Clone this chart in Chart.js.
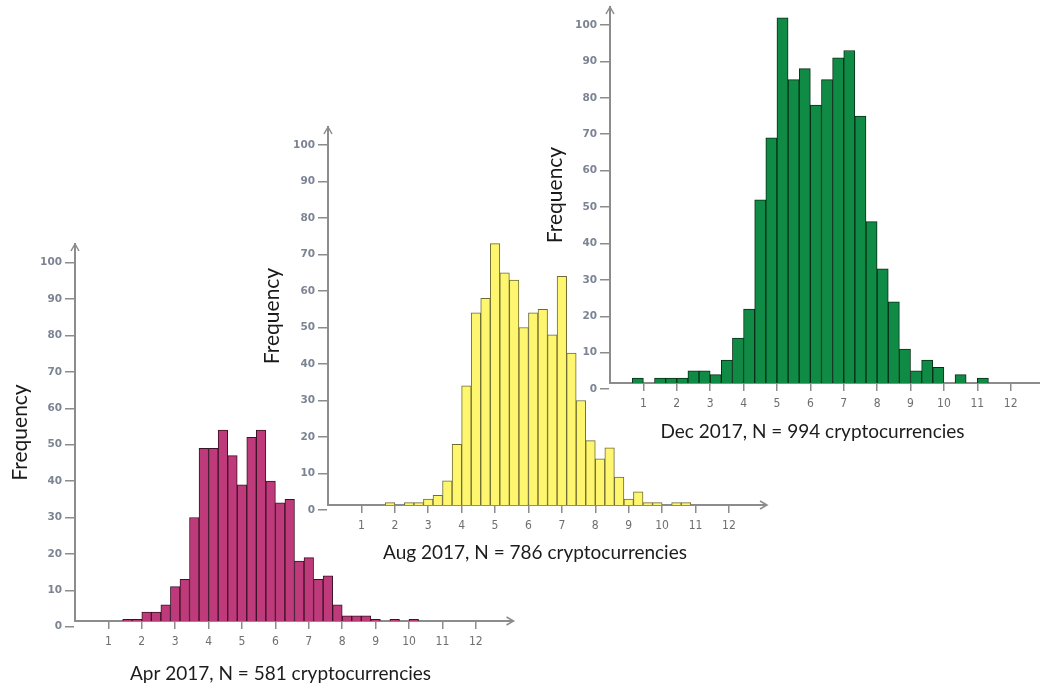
<!DOCTYPE html>
<html>
<head>
<meta charset="utf-8">
<title>Cryptocurrency histograms, 2017</title>
<script src="https://cdn.jsdelivr.net/npm/chart.js@4.4.1/dist/chart.umd.min.js"></script>
<style>
  html, body { margin: 0; padding: 0; background: #ffffff; width: 1040px; height: 690px; overflow: hidden; }
  #stage { position: relative; width: 1040px; height: 690px; overflow: hidden; background: #ffffff; }
  #stage canvas { position: absolute; }
</style>
</head>
<body>
<div id="stage"></div>
<script>
// Counts per bin; bin i covers [i * width, (i + 1) * width) on the x axis.
const aprBinWidth = 2 / 7;
const aprCounts = [0, 0, 0, 0, 0, 2, 2, 4, 4, 6, 11, 13, 30, 49, 49, 54, 47, 39, 52, 54,
                   40, 34, 35, 18, 19, 13, 14, 6, 3, 3, 3, 2, 0, 2, 0, 2];

const augBinWidth = 2 / 7;
const augCounts = [0, 0, 0, 0, 0, 0, 2, 0, 2, 2, 3, 4, 8, 18, 34, 54, 58, 73, 65, 63,
                   50, 54, 55, 48, 64, 43, 30, 19, 14, 17, 9, 3, 5, 2, 2, 0, 2, 2];

const decBinWidth = 1 / 3;
const decCounts = [0, 0, 3, 0, 3, 3, 3, 5, 5, 4, 8, 14, 22, 52, 69, 102, 85, 88, 78, 85,
                   91, 93, 75, 46, 33, 24, 11, 5, 8, 6, 0, 4, 0, 3, 0];

const xTickValues = [1, 2, 3, 4, 5, 6, 7, 8, 9, 10, 11, 12];
const yTickValues = [0, 10, 20, 30, 40, 50, 60, 70, 80, 90, 100];

const aprCaption = 'Apr 2017, N = 581 cryptocurrencies';
const augCaption = 'Aug 2017, N = 786 cryptocurrencies';
const decCaption = 'Dec 2017, N = 994 cryptocurrencies';
const yTitle = 'Frequency';

// Where each panel sits on the page and the limits of its axes.
const panels = [
  { counts: aprCounts, binWidth: aprBinWidth, caption: aprCaption,
    fill: '#be3a7a', edge: '#3b1326',
    plotLeft: 75, plotTop: 244, plotBottom: 621, unitPx: 33.4,
    yMin: 1.57, yMax: 105.14, xArrow: 13.13,
    captionX: 280.5, captionY: 673.5, titleX: 20 },
  { counts: augCounts, binWidth: augBinWidth, caption: augCaption,
    fill: '#fdf66e', edge: '#6e6b33',
    plotLeft: 328, plotTop: 127, plotBottom: 505, unitPx: 33.41,
    yMin: 1.37, yMax: 104.93, xArrow: 13.14,
    captionX: 535, captionY: 553, titleX: 272 },
  { counts: decCounts, binWidth: decBinWidth, caption: decCaption,
    fill: '#0f8b45', edge: '#082e18',
    plotLeft: 610, plotTop: 7, plotBottom: 383, unitPx: 33.39,
    yMin: 1.68, yMax: 104.94, xArrow: 13.4,
    captionX: 812.5, captionY: 432, titleX: 555 }
];

const AXIS_GREY = '#8c8c8c';
const Y_GUTTER = 80;      // room left of the plot for tick labels and the axis title
const TOP_PAD = 12;
const RIGHT_ROOM = 70;    // room right of the plot for the x axis arrow
const captionFont = { family: 'Lato, "Open Sans", sans-serif', size: 19, lineHeight: 1.2 };
const yTitleFont = { family: 'Lato, "Open Sans", sans-serif', size: 21, lineHeight: 1.2 };
const yTickFont = { family: '"DejaVu Sans", Verdana, sans-serif', size: 10.5, weight: 'bold' };
const xTickFont = { family: '"Liberation Sans Narrow", "DejaVu Sans Condensed", sans-serif', size: 12 };

// Arrow heads on both axes; the x axis line is carried on to its arrow tip.
const axisArrows = {
  id: 'axisArrows',
  afterDraw(chart, _args, opts) {
    const { ctx, chartArea: a } = chart;
    const tip = chart.scales.x.getPixelForValue(opts.xTip);
    ctx.save();
    ctx.strokeStyle = opts.color;
    ctx.lineWidth = 2;
    ctx.beginPath();
    ctx.moveTo(a.right, a.bottom);
    ctx.lineTo(tip, a.bottom);
    ctx.stroke();
    ctx.lineWidth = 1.5;
    ctx.beginPath();
    ctx.moveTo(tip - 7, a.bottom - 4);
    ctx.lineTo(tip, a.bottom);
    ctx.lineTo(tip - 7, a.bottom + 4);
    ctx.moveTo(a.left - 4, a.top + 7);
    ctx.lineTo(a.left, a.top);
    ctx.lineTo(a.left + 4, a.top + 7);
    ctx.stroke();
    ctx.restore();
  }
};

const stage = document.getElementById('stage');

panels.forEach((p) => {
  const plotRight = 2 * p.captionX - p.plotLeft;        // caption is centred under the plot
  const plotW = plotRight - p.plotLeft;
  const plotH = p.plotBottom - p.plotTop;
  const xMax = plotW / p.unitPx;

  const width = Math.ceil(Y_GUTTER + plotW + RIGHT_ROOM);
  const padRight = width - Y_GUTTER - plotW;
  const captionHalf = captionFont.size * captionFont.lineHeight / 2;
  const height = Math.round(TOP_PAD + plotH + (p.captionY - p.plotBottom) + captionHalf);
  const xAxisHeight = height - TOP_PAD - plotH;
  const yTitlePad = p.titleX - (p.plotLeft - Y_GUTTER) - yTitleFont.size * yTitleFont.lineHeight / 2;

  const canvas = document.createElement('canvas');
  canvas.width = width;
  canvas.height = height;
  canvas.style.width = width + 'px';
  canvas.style.height = height + 'px';
  canvas.style.left = (p.plotLeft - Y_GUTTER) + 'px';
  canvas.style.top = (p.plotTop - TOP_PAD) + 'px';
  stage.appendChild(canvas);

  new Chart(canvas, {
    type: 'bar',
    data: {
      datasets: [{
        data: p.counts.map((c, i) => ({ x: (i + 0.5) * p.binWidth, y: c })),
        backgroundColor: p.fill,
        borderColor: p.edge,
        borderWidth: 1,
        borderSkipped: 'start',
        barPercentage: 1,
        categoryPercentage: 1,
        clip: 0
      }]
    },
    options: {
      responsive: false,
      animation: false,
      devicePixelRatio: 1,
      events: [],
      layout: { autoPadding: false, padding: { left: 0, top: TOP_PAD, right: padRight, bottom: 0 } },
      plugins: {
        legend: { display: false },
        tooltip: { enabled: false },
        axisArrows: { xTip: p.xArrow, color: AXIS_GREY }
      },
      scales: {
        x: {
          type: 'linear',
          offset: false,
          min: 0,
          max: xMax,
          afterBuildTicks: (s) => { s.ticks = xTickValues.map((v) => ({ value: v })); },
          afterFit: (s) => { s.height = xAxisHeight; },
          grid: { display: true, offset: false, drawOnChartArea: false, drawTicks: true, tickLength: 8,
                  color: AXIS_GREY, lineWidth: 1.5 },
          border: { display: true, color: AXIS_GREY, width: 2 },
          ticks: { padding: 6, color: '#6e6e6e', font: xTickFont, autoSkip: false, maxRotation: 0 },
          title: { display: true, text: p.caption, color: '#1c1c1c', font: captionFont,
                   padding: { top: 0, bottom: 0 } }
        },
        y: {
          type: 'linear',
          min: p.yMin,
          max: p.yMax,
          afterBuildTicks: (s) => { s.ticks = yTickValues.map((v) => ({ value: v })); },
          afterFit: (s) => { s.width = Y_GUTTER; },
          grid: { display: true, drawOnChartArea: false, drawTicks: true, tickLength: 10,
                  color: AXIS_GREY, lineWidth: 1.5 },
          border: { display: true, color: AXIS_GREY, width: 2 },
          ticks: { padding: 3, color: '#7c8494', font: yTickFont, autoSkip: false },
          title: { display: true, text: yTitle, color: '#1a1a1a', font: yTitleFont,
                   padding: { top: yTitlePad, bottom: 0 } }
        }
      }
    },
    plugins: [axisArrows]
  });
});
</script>
</body>
</html>
